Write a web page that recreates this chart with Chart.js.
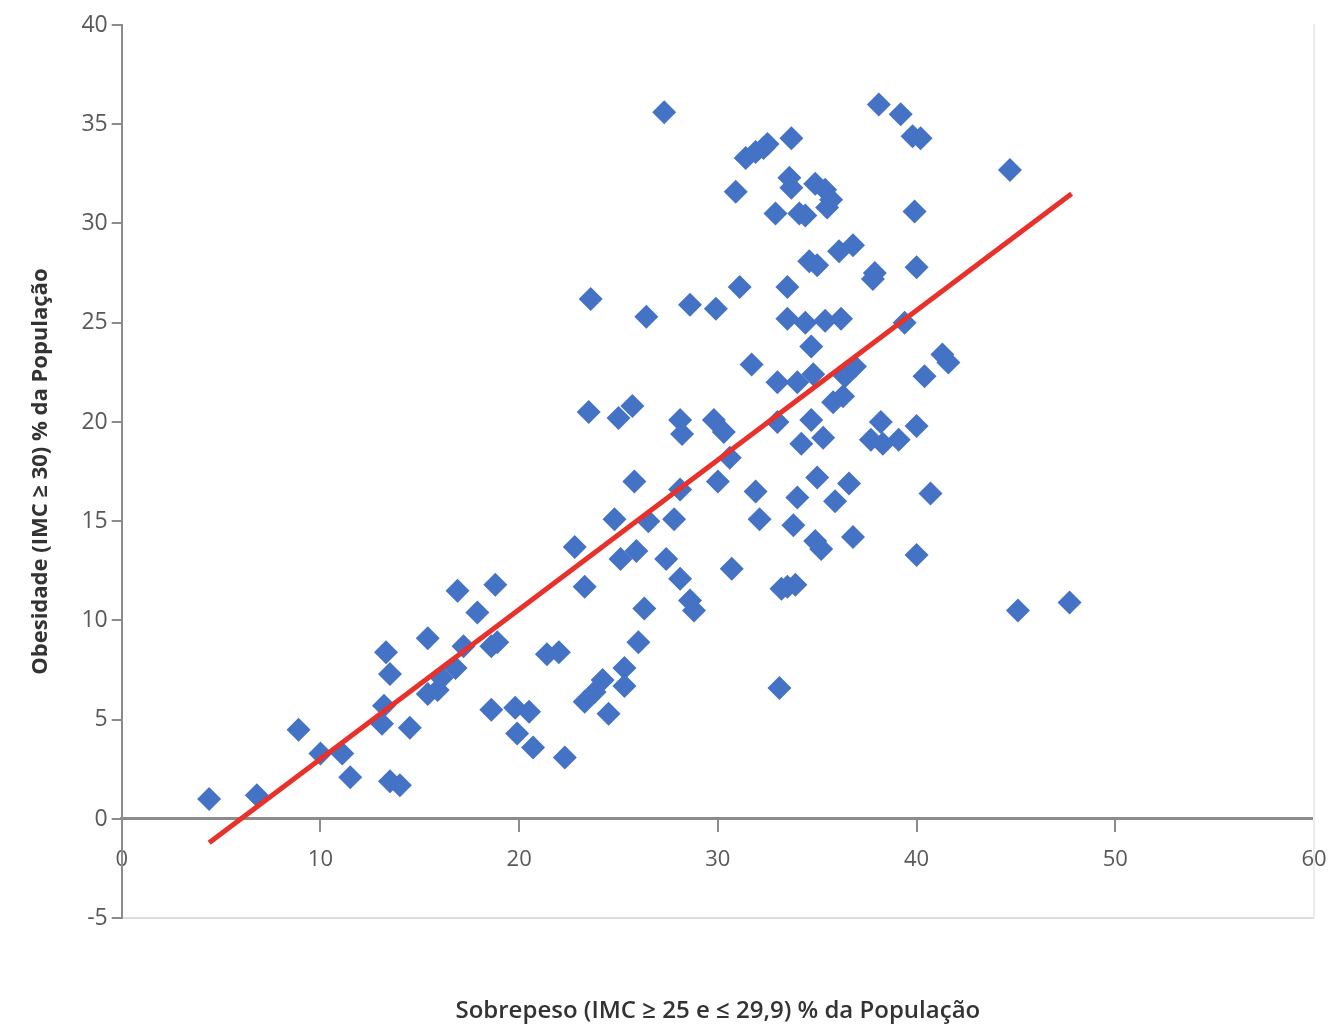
<!DOCTYPE html>
<html>
<head>
<meta charset="utf-8">
<script src="https://cdn.jsdelivr.net/npm/chart.js@4"></script>
<style>
  html, body { margin: 0; padding: 0; background: #fff; }
  #wrap { width: 1330px; height: 1028px; }
</style>
</head>
<body>
<div id="wrap"><canvas id="scatterChart"></canvas></div>
<script>
// Sobrepeso (x) vs Obesidade (y), % da população
const sobrepeso = [4.4, 6.8, 8.9, 10.0, 11.1, 11.5, 13.3, 13.5, 13.2, 13.1, 13.5, 14.0, 14.5, 15.4, 15.4, 15.9, 16.1, 16.8, 16.9, 17.2,
  17.9, 18.6, 18.8, 18.9, 18.6, 19.8, 19.9, 20.5, 20.7, 21.4, 22.0, 22.3, 22.8, 23.3, 23.5, 23.6, 23.3, 23.8, 24.2, 24.5,
  24.8, 25.0, 25.1, 25.3, 25.3, 25.7, 25.8, 25.9, 26.0, 26.3, 26.4, 26.5, 27.3, 27.4, 27.8, 28.1, 28.1, 28.2, 28.1, 28.6,
  28.6, 28.8, 29.9, 29.8, 30.0, 30.3, 30.6, 30.7, 30.9, 31.1, 31.4, 31.7, 31.9, 31.9, 32.3, 32.1, 32.5, 32.9, 33.0, 33.0,
  33.1, 33.2, 33.5, 33.5, 33.5, 33.6, 33.7, 33.7, 33.8, 34.0, 33.9, 34.1, 34.0, 34.2, 34.4, 34.6, 34.4, 34.7, 34.8, 34.7,
  34.9, 35.0, 35.0, 34.9, 35.2, 35.3, 35.4, 35.5, 35.7, 35.4, 35.8, 35.9, 36.1, 36.2, 36.3, 36.4, 36.6, 36.8, 36.8, 36.9,
  37.7, 37.8, 38.1, 37.9, 38.2, 38.3, 39.1, 39.2, 39.4, 39.8, 40.2, 39.9, 40.0, 40.0, 40.0, 40.4, 40.7, 41.3, 41.6, 44.7,
  45.1, 47.7];
const obesidade = [1.0, 1.2, 4.5, 3.3, 3.3, 2.1, 8.4, 7.3, 5.7, 4.8, 1.9, 1.7, 4.6, 9.1, 6.3, 6.5, 7.1, 7.6, 11.5, 8.7,
  10.4, 8.7, 11.8, 8.9, 5.5, 5.6, 4.3, 5.4, 3.6, 8.3, 8.4, 3.1, 13.7, 11.7, 20.5, 26.2, 5.9, 6.4, 7.0, 5.3,
  15.1, 20.2, 13.1, 7.6, 6.7, 20.8, 17.0, 13.5, 8.9, 10.6, 25.3, 15.0, 35.6, 13.1, 15.1, 12.1, 20.1, 19.4, 16.6, 25.9,
  11.0, 10.5, 25.7, 20.1, 17.0, 19.5, 18.2, 12.6, 31.6, 26.8, 33.3, 22.9, 16.5, 33.6, 33.8, 15.1, 34.0, 30.5, 22.0, 20.0,
  6.6, 11.6, 11.7, 26.8, 25.2, 32.3, 34.3, 31.8, 14.8, 16.2, 11.8, 30.5, 22.0, 18.9, 30.4, 28.1, 25.0, 23.8, 22.4, 20.1,
  32.0, 27.9, 17.2, 14.0, 13.6, 19.2, 31.7, 30.8, 31.2, 25.1, 21.0, 16.0, 28.6, 25.2, 21.3, 22.3, 16.9, 28.9, 14.2, 22.8,
  19.1, 27.2, 36.0, 27.5, 20.0, 18.9, 19.1, 35.5, 25.0, 34.4, 34.3, 30.6, 27.8, 19.8, 13.3, 22.3, 16.4, 23.4, 23.0, 32.7,
  10.5, 10.9];

// linha de tendência (extremos)
const tendenciaX = [4.4, 47.8];
const tendenciaY = [-1.2, 31.5];

const yTicks = [-5, 0, 5, 10, 15, 20, 25, 30, 35, 40];
const xTicks = [0, 10, 20, 30, 40, 50, 60];

const pontos = sobrepeso.map((x, i) => ({ x: x, y: obesidade[i] }));
const tendencia = tendenciaX.map((x, i) => ({ x: x, y: tendenciaY[i] }));

const axisGray = '#8c8c8c';
const labelGray = '#595959';

const ctx = document.getElementById('scatterChart').getContext('2d');
const scatterChart = new Chart(ctx, {
  type: 'scatter',
  data: {
    datasets: [{
      type: 'line',
      label: 'Tendência',
      data: tendencia,
      borderColor: '#e8312a',
      borderWidth: 5,
      pointRadius: 0,
      fill: false,
      order: 0
    }, {
      label: 'Países',
      data: pontos,
      pointStyle: 'rectRot',
      pointRadius: 12,
      pointBorderWidth: 0,
      backgroundColor: '#4472c4',
      borderColor: '#4472c4',
      order: 1
    }]
  },
  options: {
    responsive: true,
    maintainAspectRatio: false,
    animation: false,
    layout: { padding: { top: 25, right: 16, left: 28, bottom: 2 } },
    plugins: {
      legend: { display: false },
      tooltip: { enabled: false }
    },
    scales: {
      x: {
        type: 'linear',
        position: { y: 0 },
        min: 0,
        max: 60,
        afterBuildTicks: (axis) => { axis.ticks = xTicks.map(v => ({ value: v })); },
        afterFit: (axis) => { axis.paddingRight = 0; },
        grid: { display: true, drawOnChartArea: false, drawTicks: true, tickLength: 12, color: axisGray, lineWidth: 2 },
        border: { display: true, color: axisGray, width: 3 },
        ticks: { color: labelGray, padding: 16, font: { family: 'Open Sans', size: 22 } }
      },
      x2: {
        type: 'linear',
        position: 'bottom',
        min: 0,
        max: 60,
        afterFit: (axis) => { axis.paddingRight = 0; },
        grid: { display: false, drawTicks: false },
        border: { display: true, color: '#dcdcdc', width: 2 },
        ticks: { display: false },
        title: {
          display: true,
          text: 'Sobrepeso (IMC ≥ 25 e ≤ 29,9) % da População',
          color: '#333333',
          font: { family: 'Open Sans', size: 24, weight: '600' },
          padding: { top: 79, bottom: 0 }
        }
      },
      y: {
        type: 'linear',
        position: 'left',
        min: -5,
        max: 40,
        afterBuildTicks: (axis) => { axis.ticks = yTicks.map(v => ({ value: v })); },
        grid: { display: true, drawOnChartArea: false, drawTicks: true, tickLength: 10, color: axisGray, lineWidth: 2 },
        border: { display: true, color: axisGray, width: 2 },
        ticks: { color: labelGray, padding: 4, font: { family: 'Open Sans', size: 23 } },
        title: {
          display: true,
          text: 'Obesidade (IMC ≥ 30) % da População',
          color: '#333333',
          font: { family: 'Open Sans', size: 22, weight: 'bold' },
          padding: { top: 0, bottom: 23 }
        }
      },
      y2: {
        type: 'linear',
        position: 'right',
        min: -5,
        max: 40,
        afterFit: (axis) => { axis.width = 0; },
        grid: { display: false, drawTicks: false },
        border: { display: true, color: '#ececec', width: 2 },
        ticks: { display: false }
      }
    }
  }
});
</script>
</body>
</html>
